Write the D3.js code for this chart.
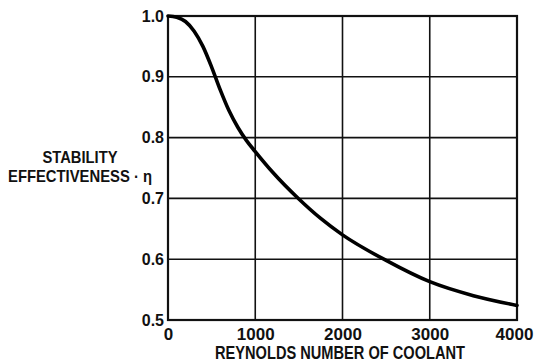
<!DOCTYPE html>
<html>
<head>
<meta charset="utf-8">
<script src="https://cdn.jsdelivr.net/npm/d3@7"></script>
<style>
  body { margin: 0; background: #fff; }
  svg text { font-family: "Liberation Sans", Arial, sans-serif; font-weight: bold; fill: #111; }
</style>
</head>
<body>
<svg id="chart" width="535" height="362"></svg>
<script>
// values
var reynolds = [0, 100, 200, 300, 400, 500, 600, 700, 800, 900, 1000,
  1200, 1500, 1750, 2000, 2500, 3000, 3500, 4000];
var effectiveness = [1.0, 0.998, 0.991, 0.975, 0.950, 0.916, 0.878, 0.844, 0.817, 0.795, 0.777,
  0.743, 0.699, 0.667, 0.640, 0.598, 0.563, 0.540, 0.524];
var xTicks = [0, 1000, 2000, 3000, 4000];
var yTicks = [0.5, 0.6, 0.7, 0.8, 0.9, 1.0];

(function () {
  "use strict";
  var svg = d3.select("#chart"),
    plotLeft = 168, plotRight = 517, plotTop = 16, plotBottom = 320;

  var x = d3.scaleLinear().domain([0, 4000]).range([plotLeft, plotRight]),
    y = d3.scaleLinear().domain([0.5, 1.0]).range([plotBottom, plotTop]);

  // grid
  svg.append("g")
    .selectAll("line")
    .data(xTicks)
    .enter().append("line")
    .attr("x1", function (d) { return x(d); })
    .attr("x2", function (d) { return x(d); })
    .attr("y1", plotTop).attr("y2", plotBottom)
    .attr("stroke", "#111").attr("stroke-width", 1.6);

  svg.append("g")
    .selectAll("line")
    .data(yTicks)
    .enter().append("line")
    .attr("x1", plotLeft).attr("x2", plotRight)
    .attr("y1", function (d) { return y(d); })
    .attr("y2", function (d) { return y(d); })
    .attr("stroke", "#111").attr("stroke-width", 1.6);

  // frame
  svg.append("rect")
    .attr("x", plotLeft).attr("y", plotTop)
    .attr("width", plotRight - plotLeft).attr("height", plotBottom - plotTop)
    .attr("fill", "none").attr("stroke", "#111").attr("stroke-width", 2.2);

  // tick labels through d3 axes, lines hidden
  var xAxis = svg.append("g")
    .attr("transform", "translate(0," + plotBottom + ")")
    .call(d3.axisBottom(x).tickValues(xTicks).tickFormat(d3.format("d")).tickSize(0).tickPadding(8));
  var yAxis = svg.append("g")
    .attr("transform", "translate(" + plotLeft + ",0)")
    .call(d3.axisLeft(y).tickValues(yTicks).tickFormat(d3.format(".1f")).tickSize(0).tickPadding(4));
  [xAxis, yAxis].forEach(function (a) {
    a.select(".domain").remove();
    a.selectAll("text").attr("fill", "#111")
      .style("font-family", "'Liberation Sans', Arial, sans-serif")
      .style("font-weight", "bold");
  });
  xAxis.selectAll("text").style("font-size", "17px")
    .attr("dx", function (d) { return d === 4000 ? "-3" : "0"; });
  yAxis.selectAll("text").style("font-size", "16px");

  // curve
  var line = d3.line()
    .x(function (d, i) { return x(reynolds[i]); })
    .y(function (d) { return y(d); })
    .curve(d3.curveMonotoneX);

  svg.append("path")
    .datum(effectiveness)
    .attr("d", line)
    .attr("fill", "none")
    .attr("stroke", "#000")
    .attr("stroke-width", 3.6)
    .attr("stroke-linecap", "round");

  // titles
  svg.append("text")
    .attr("x", 340).attr("y", 359)
    .attr("text-anchor", "middle")
    .attr("textLength", 250).attr("lengthAdjust", "spacingAndGlyphs")
    .style("font-size", "18px")
    .text("REYNOLDS NUMBER OF COOLANT");

  svg.append("text")
    .attr("x", 80).attr("y", 163)
    .attr("text-anchor", "middle")
    .attr("textLength", 75).attr("lengthAdjust", "spacingAndGlyphs")
    .style("font-size", "17px")
    .text("STABILITY");

  svg.append("text")
    .attr("x", 80).attr("y", 182)
    .attr("text-anchor", "middle")
    .attr("textLength", 144).attr("lengthAdjust", "spacingAndGlyphs")
    .style("font-size", "17px")
    .text("EFFECTIVENESS · η");
}());
</script>
</body>
</html>
